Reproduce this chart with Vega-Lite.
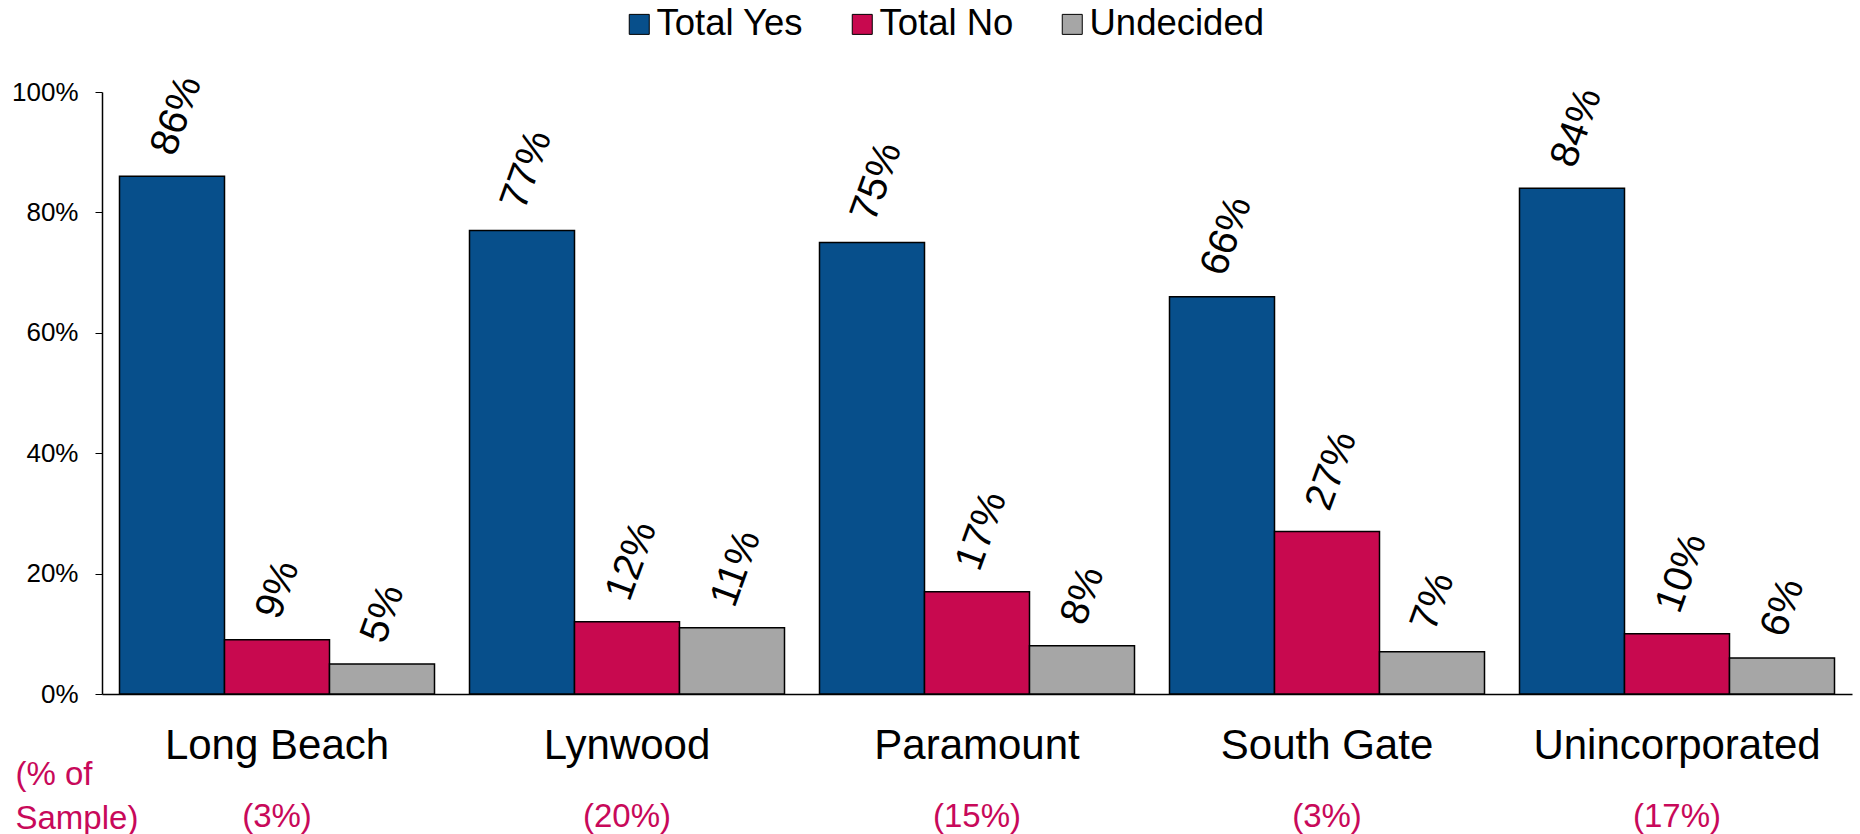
{
  "$schema": "https://vega.github.io/schema/vega-lite/v6.json",
  "autosize": {"type": "none"},
  "width": 1750,
  "height": 602,
  "padding": {"left": 102, "top": 92, "right": 8, "bottom": 140},
  "background": "white",
  "config": {
    "font": "Liberation Sans",
    "view": {"stroke": null},
    "axis": {"grid": false, "domainColor": "black", "tickColor": "black", "labelColor": "black", "labelFont": "Liberation Sans", "labelLimit": 0},
    "legend": {"labelFont": "Liberation Sans", "labelLimit": 0}
  },
  "datasets": {
    "results": [
      {"city": "Long Beach", "group": "Total Yes", "value": 0.86},
      {"city": "Long Beach", "group": "Total No", "value": 0.09},
      {"city": "Long Beach", "group": "Undecided", "value": 0.05},
      {"city": "Lynwood", "group": "Total Yes", "value": 0.77},
      {"city": "Lynwood", "group": "Total No", "value": 0.12},
      {"city": "Lynwood", "group": "Undecided", "value": 0.11},
      {"city": "Paramount", "group": "Total Yes", "value": 0.75},
      {"city": "Paramount", "group": "Total No", "value": 0.17},
      {"city": "Paramount", "group": "Undecided", "value": 0.08},
      {"city": "South Gate", "group": "Total Yes", "value": 0.66},
      {"city": "South Gate", "group": "Total No", "value": 0.27},
      {"city": "South Gate", "group": "Undecided", "value": 0.07},
      {"city": "Unincorporated", "group": "Total Yes", "value": 0.84},
      {"city": "Unincorporated", "group": "Total No", "value": 0.10},
      {"city": "Unincorporated", "group": "Undecided", "value": 0.06}
    ],
    "samples": [
      {"city": "Long Beach", "share": "(3%)"},
      {"city": "Lynwood", "share": "(20%)"},
      {"city": "Paramount", "share": "(15%)"},
      {"city": "South Gate", "share": "(3%)"},
      {"city": "Unincorporated", "share": "(17%)"}
    ]
  },
  "layer": [
    {
      "data": {"name": "results"},
      "mark": {"type": "bar", "stroke": "black", "strokeWidth": 1.5},
      "encoding": {
        "x": {
          "field": "city", "type": "nominal",
          "sort": ["Long Beach", "Lynwood", "Paramount", "South Gate", "Unincorporated"],
          "scale": {"paddingInner": 0.1, "paddingOuter": 0.05},
          "axis": {"title": null, "ticks": false, "labelAngle": 0, "labelFontSize": 42, "labelPadding": 31, "domainWidth": 1.5}
        },
        "xOffset": {"field": "group", "type": "nominal", "sort": ["Total Yes", "Total No", "Undecided"], "scale": {"paddingInner": 0, "paddingOuter": 0}},
        "y": {
          "field": "value", "type": "quantitative",
          "scale": {"domain": [0, 1], "nice": false},
          "axis": {
            "format": ".0%", "values": [0, 0.2, 0.4, 0.6, 0.8, 1],
            "labelFontSize": 26, "tickSize": 7, "labelPadding": 17, "domainWidth": 1.5,
            "title": ["(% of", "Sample)"], "titleAngle": 0, "titleAlign": "left", "titleBaseline": "middle",
            "titleX": -87, "titleY": 682, "titleFontSize": 33, "titleFontWeight": "normal",
            "titleColor": "#C8095A", "titleLineHeight": 44, "titleFont": "Liberation Sans", "titleLimit": 0
          }
        },
        "color": {
          "field": "group", "type": "nominal",
          "scale": {"domain": ["Total Yes", "Total No", "Undecided"], "range": ["#074F8B", "#C8094F", "#A6A6A6"]},
          "legend": {
            "title": null, "orient": "none", "legendX": 519, "legendY": -86, "direction": "horizontal",
            "symbolType": "square", "symbolSize": 400, "symbolStrokeColor": "black", "symbolStrokeWidth": 1,
            "symbolOpacity": 1, "labelFontSize": 36.5, "labelColor": "black", "labelOffset": -1, "columnPadding": 40
          }
        }
      }
    },
    {
      "data": {"name": "results"},
      "mark": {"type": "text", "align": "left", "baseline": "middle", "angle": -70, "radius": 24.7, "theta": -0.373, "fontSize": 40, "color": "black"},
      "encoding": {
        "x": {"field": "city", "type": "nominal", "sort": ["Long Beach", "Lynwood", "Paramount", "South Gate", "Unincorporated"]},
        "xOffset": {"field": "group", "type": "nominal", "sort": ["Total Yes", "Total No", "Undecided"]},
        "y": {"field": "value", "type": "quantitative"},
        "text": {"field": "value", "type": "quantitative", "format": ".0%"}
      }
    },
    {
      "data": {"name": "samples"},
      "mark": {"type": "text", "align": "center", "baseline": "middle", "dy": 123, "fontSize": 33, "color": "#C8095A"},
      "encoding": {
        "x": {"field": "city", "type": "nominal", "sort": ["Long Beach", "Lynwood", "Paramount", "South Gate", "Unincorporated"]},
        "y": {"datum": 0, "type": "quantitative"},
        "text": {"field": "share", "type": "nominal"}
      }
    }
  ]
}
